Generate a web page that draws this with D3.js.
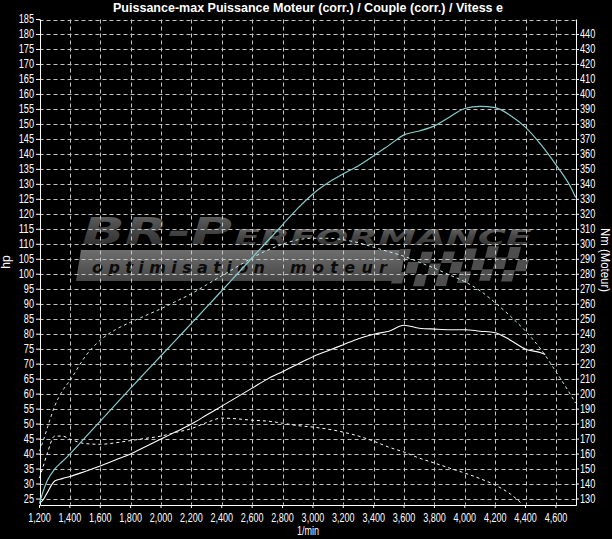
<!DOCTYPE html>
<html><head><meta charset="utf-8">
<script src="https://cdn.jsdelivr.net/npm/d3@7"></script>
<style>
html,body{margin:0;padding:0;background:#000;}
svg{display:block;}
</style></head><body>
<svg id="chart" width="612" height="539"></svg>
<script>
const titleText = "Puissance-max Puissance Moteur (corr.) / Couple (corr.) / Vitess e";
const xLabel = "1/min";
const yLeftLabel = "hp";
const yRightLabel = "Nm (Moteur)";

const hpTicks = [25,30,35,40,45,50,55,60,65,70,75,80,85,90,95,100,105,110,115,120,125,130,135,140,145,150,155,160,165,170,175,180,185];
const nmTicks = [130,140,150,160,170,180,190,200,210,220,230,240,250,260,270,280,290,300,310,320,330,340,350,360,370,380,390,400,410,420,430,440];
const rpmTicks = [1200,1400,1600,1800,2000,2200,2400,2600,2800,3000,3200,3400,3600,3800,4000,4200,4400,4600];

// cyan pair (power hp / torque Nm)
const rpmCyan = [1200,1225,1250,1300,1350,1400,1500,1600,1700,1800,1900,2000,2100,2200,2300,2400,2500,2600,2700,2800,2900,3000,3100,3200,3300,3400,3500,3600,3700,3800,3900,4000,4100,4200,4300,4400,4500,4600,4700,4730];
const powerCyan = [23.5,27.7,31,35,37.5,40,45.5,51,56.5,62,67.4,72.8,78.2,83.6,89,94.5,100,105.5,111,116.5,122,126.8,130.5,133.5,136.2,139.5,143,146.5,147.8,149.5,152.5,155.3,156,155.6,153,149,143.3,136.5,128.8,125.6];
const torqueCyan = [162,169,177,192,202,209,225,236,243,248,252.5,257,262,267,273,279,285,291,296,300,303,304,304,303,301,298,295,292,288,284,279.5,275,269,261,252,242,230,215,199,194];

// white pair (power hp / torque Nm)
const rpmWhite = [1200,1225,1250,1300,1350,1400,1500,1600,1700,1800,1900,2000,2100,2200,2300,2400,2500,2600,2700,2800,2900,3000,3100,3200,3300,3400,3500,3600,3700,3800,3900,4000,4100,4200,4300,4400,4500,4530];
const powerWhite = [23.6,24.8,27,31,31.8,32.5,34.2,36,38,40,42.5,45,47.5,50,53,56,59,62,65,67.5,70,72.5,74.5,76.5,78.5,80,81,83,82,81.7,81.5,81.5,81,80.5,78,75,73.8,73.2];
const rpmWhiteTq = [1200,1225,1250,1300,1350,1400,1500,1600,1700,1800,1900,2000,2100,2200,2300,2400,2500,2600,2700,2800,2900,3000,3100,3200,3300,3400,3500,3600,3700,3800,3900,4000,4100,4200,4300,4380];
const torqueWhite = [144,152,160,172,172,170,167,166.5,167.5,169,170.5,172,174.5,177,181,184,183.5,182.6,182,180.6,179,178,176.6,174.6,172,168.6,164.6,161.3,157.3,154,150.6,147.3,143.6,139.3,133.3,126.5];

const svg = d3.select("#chart");
const L = 39.5, R = 576, T = 19.5, B = 504.7;
const x = d3.scaleLinear().domain([1200, 4732]).range([L, R]);
const yHp = d3.scaleLinear().domain([23.1, 185]).range([B, T]);
const yNm = d3.scaleLinear().domain([126.2, 450]).range([B, T]);
const px = v => Math.round(v) + 0.5;
const font = "'Liberation Sans', Arial, sans-serif";
const narrowLen = s => s.split("").reduce((a,c)=> a + (c === "," ? 2.2 : 5.1), 0);

svg.append("rect").attr("width",612).attr("height",539).attr("fill","#000");

// ---------- watermark ----------
const defs = svg.append("defs");
const g1 = defs.append("linearGradient").attr("id","wmText").attr("x1",0).attr("y1",0).attr("x2",0).attr("y2",1);
g1.append("stop").attr("offset","0%").attr("stop-color","#6c6c6c");
g1.append("stop").attr("offset","45%").attr("stop-color","#474747");
g1.append("stop").attr("offset","100%").attr("stop-color","#2a2a2a");
const g2 = defs.append("linearGradient").attr("id","wmBar").attr("x1",0).attr("y1",0).attr("x2",0).attr("y2",1);
g2.append("stop").attr("offset","0%").attr("stop-color","#6e6e6e");
g2.append("stop").attr("offset","100%").attr("stop-color","#454545");

const wm = svg.append("g");
wm.append("text").attr("x",82).attr("y",244)
  .attr("font-family","DejaVu Sans").attr("font-weight","bold").attr("font-style","italic")
  .attr("font-size",38).attr("fill","url(#wmText)")
  .attr("textLength",150).attr("lengthAdjust","spacingAndGlyphs").text("BR-P");
wm.append("text").attr("x",234).attr("y",245)
  .attr("font-family","DejaVu Sans").attr("font-weight","bold").attr("font-style","italic")
  .attr("font-size",22).attr("fill","url(#wmText)")
  .attr("textLength",298).attr("lengthAdjust","spacingAndGlyphs").text("ERFORMANCE");
wm.append("polygon").attr("points","81,250 405,250 400,281 76,281").attr("fill","url(#wmBar)");
const flag = wm.append("g");
for (let c = 0; c < 12; c++) {
  for (let r = 0; r < 3; r++) {
    if ((c + r) % 2 === 0) {
      const off = 3 * Math.sin(c * 0.55);
      flag.append("polygon")
        .attr("points", [[0,0],[11,0],[8,11.5],[-3,11.5]].map(p => [400 + c*11 + p[0] - r*3, 249 + r*11.5 + off + p[1]].join(",")).join(" "))
        .attr("fill", "#4e4e4e");
    }
  }
}
wm.append("text").attr("x",92).attr("y",273)
  .attr("font-family","DejaVu Sans").attr("font-weight","bold").attr("font-style","italic")
  .attr("font-size",16).attr("fill","#0c0c0c")
  .attr("textLength",173).attr("lengthAdjust","spacing").text("optimisation");
wm.append("text").attr("x",290).attr("y",273)
  .attr("font-family","DejaVu Sans").attr("font-weight","bold").attr("font-style","italic")
  .attr("font-size",16).attr("fill","#0c0c0c")
  .attr("textLength",97).attr("lengthAdjust","spacing").text("moteur");

// ---------- grid ----------
const grid = svg.append("g").attr("stroke","#c4c4c4").attr("stroke-width",1).attr("stroke-dasharray","4,3");
grid.selectAll("line.h").data(hpTicks).join("line")
  .attr("x1",L).attr("x2",R).attr("y1",d=>px(yHp(d))).attr("y2",d=>px(yHp(d)));
grid.selectAll("line.v").data(rpmTicks.slice(1)).join("line")
  .attr("x1",d=>px(x(d))).attr("x2",d=>px(x(d))).attr("y1",T).attr("y2",B);

// ---------- axes ----------
function styleAxis(g){
  g.select(".domain").remove();
  g.selectAll(".tick line").attr("stroke","#fff");
  g.selectAll(".tick text").attr("fill","#fff").attr("font-family",font).attr("font-size",12)
    .attr("textLength", function(){ return narrowLen(this.textContent); })
    .attr("lengthAdjust","spacingAndGlyphs");
}
svg.append("g").attr("transform",`translate(${px(L)-0.5},0)`)
  .call(d3.axisLeft(yHp).tickValues(hpTicks).tickSize(4).tickPadding(2).tickFormat(d3.format("d")).offset(0))
  .call(styleAxis);
svg.append("g").attr("transform",`translate(${px(R)-0.5},0)`)
  .call(d3.axisRight(yNm).tickValues(nmTicks).tickSize(3).tickPadding(1).tickFormat(d3.format("d")).offset(0))
  .call(styleAxis);
svg.append("g").attr("transform",`translate(0,${px(B)-0.5})`)
  .call(d3.axisBottom(x).tickValues(rpmTicks).tickSize(3).tickPadding(5).tickFormat(d3.format(",")).offset(0))
  .call(styleAxis);

svg.append("line").attr("x1",px(L)).attr("x2",px(L)).attr("y1",T).attr("y2",px(B)).attr("stroke","#fff");
svg.append("line").attr("x1",px(R)).attr("x2",px(R)).attr("y1",T).attr("y2",px(B)).attr("stroke","#fff");
svg.append("line").attr("x1",px(L)).attr("x2",px(R)).attr("y1",px(B)).attr("y2",px(B)).attr("stroke","#fff");

// ---------- curves ----------
function path(rpms, vals, ys){
  return d3.line().x((d,i)=>x(rpms[i])).y(d=>ys(d)).curve(d3.curveMonotoneX)(vals);
}
svg.append("path").attr("d",path(rpmWhiteTq,torqueWhite,yNm)).attr("fill","none").attr("stroke","#ffffff").attr("stroke-width",1).attr("stroke-dasharray","3,3");
svg.append("path").attr("d",path(rpmCyan,torqueCyan,yNm)).attr("fill","none").attr("stroke","#c8ecec").attr("stroke-width",1).attr("stroke-dasharray","3,3");
svg.append("path").attr("d",path(rpmWhite,powerWhite,yHp)).attr("fill","none").attr("stroke","#ffffff").attr("stroke-width",1.1);
svg.append("path").attr("d",path(rpmCyan,powerCyan,yHp)).attr("fill","none").attr("stroke","#86cccc").attr("stroke-width",1.2);

// ---------- texts ----------
svg.append("text").attr("x",308).attr("y",12).attr("text-anchor","middle")
  .attr("font-family",font).attr("fill","#fff").attr("font-weight","bold").attr("font-size",13)
  .attr("textLength",390).attr("lengthAdjust","spacingAndGlyphs").text(titleText);
svg.append("text").attr("x",308).attr("y",535).attr("text-anchor","middle")
  .attr("font-family",font).attr("fill","#fff").attr("font-size",12)
  .attr("textLength",22).attr("lengthAdjust","spacingAndGlyphs").text(xLabel);
svg.append("text").attr("transform","translate(10,262) rotate(-90)").attr("text-anchor","middle")
  .attr("font-family",font).attr("fill","#fff").attr("font-size",12).text(yLeftLabel);
svg.append("text").attr("transform","translate(601,260) rotate(90)").attr("text-anchor","middle")
  .attr("font-family",font).attr("fill","#fff").attr("font-size",12)
  .attr("textLength",64).attr("lengthAdjust","spacingAndGlyphs").text(yRightLabel);
</script>
</body></html>
